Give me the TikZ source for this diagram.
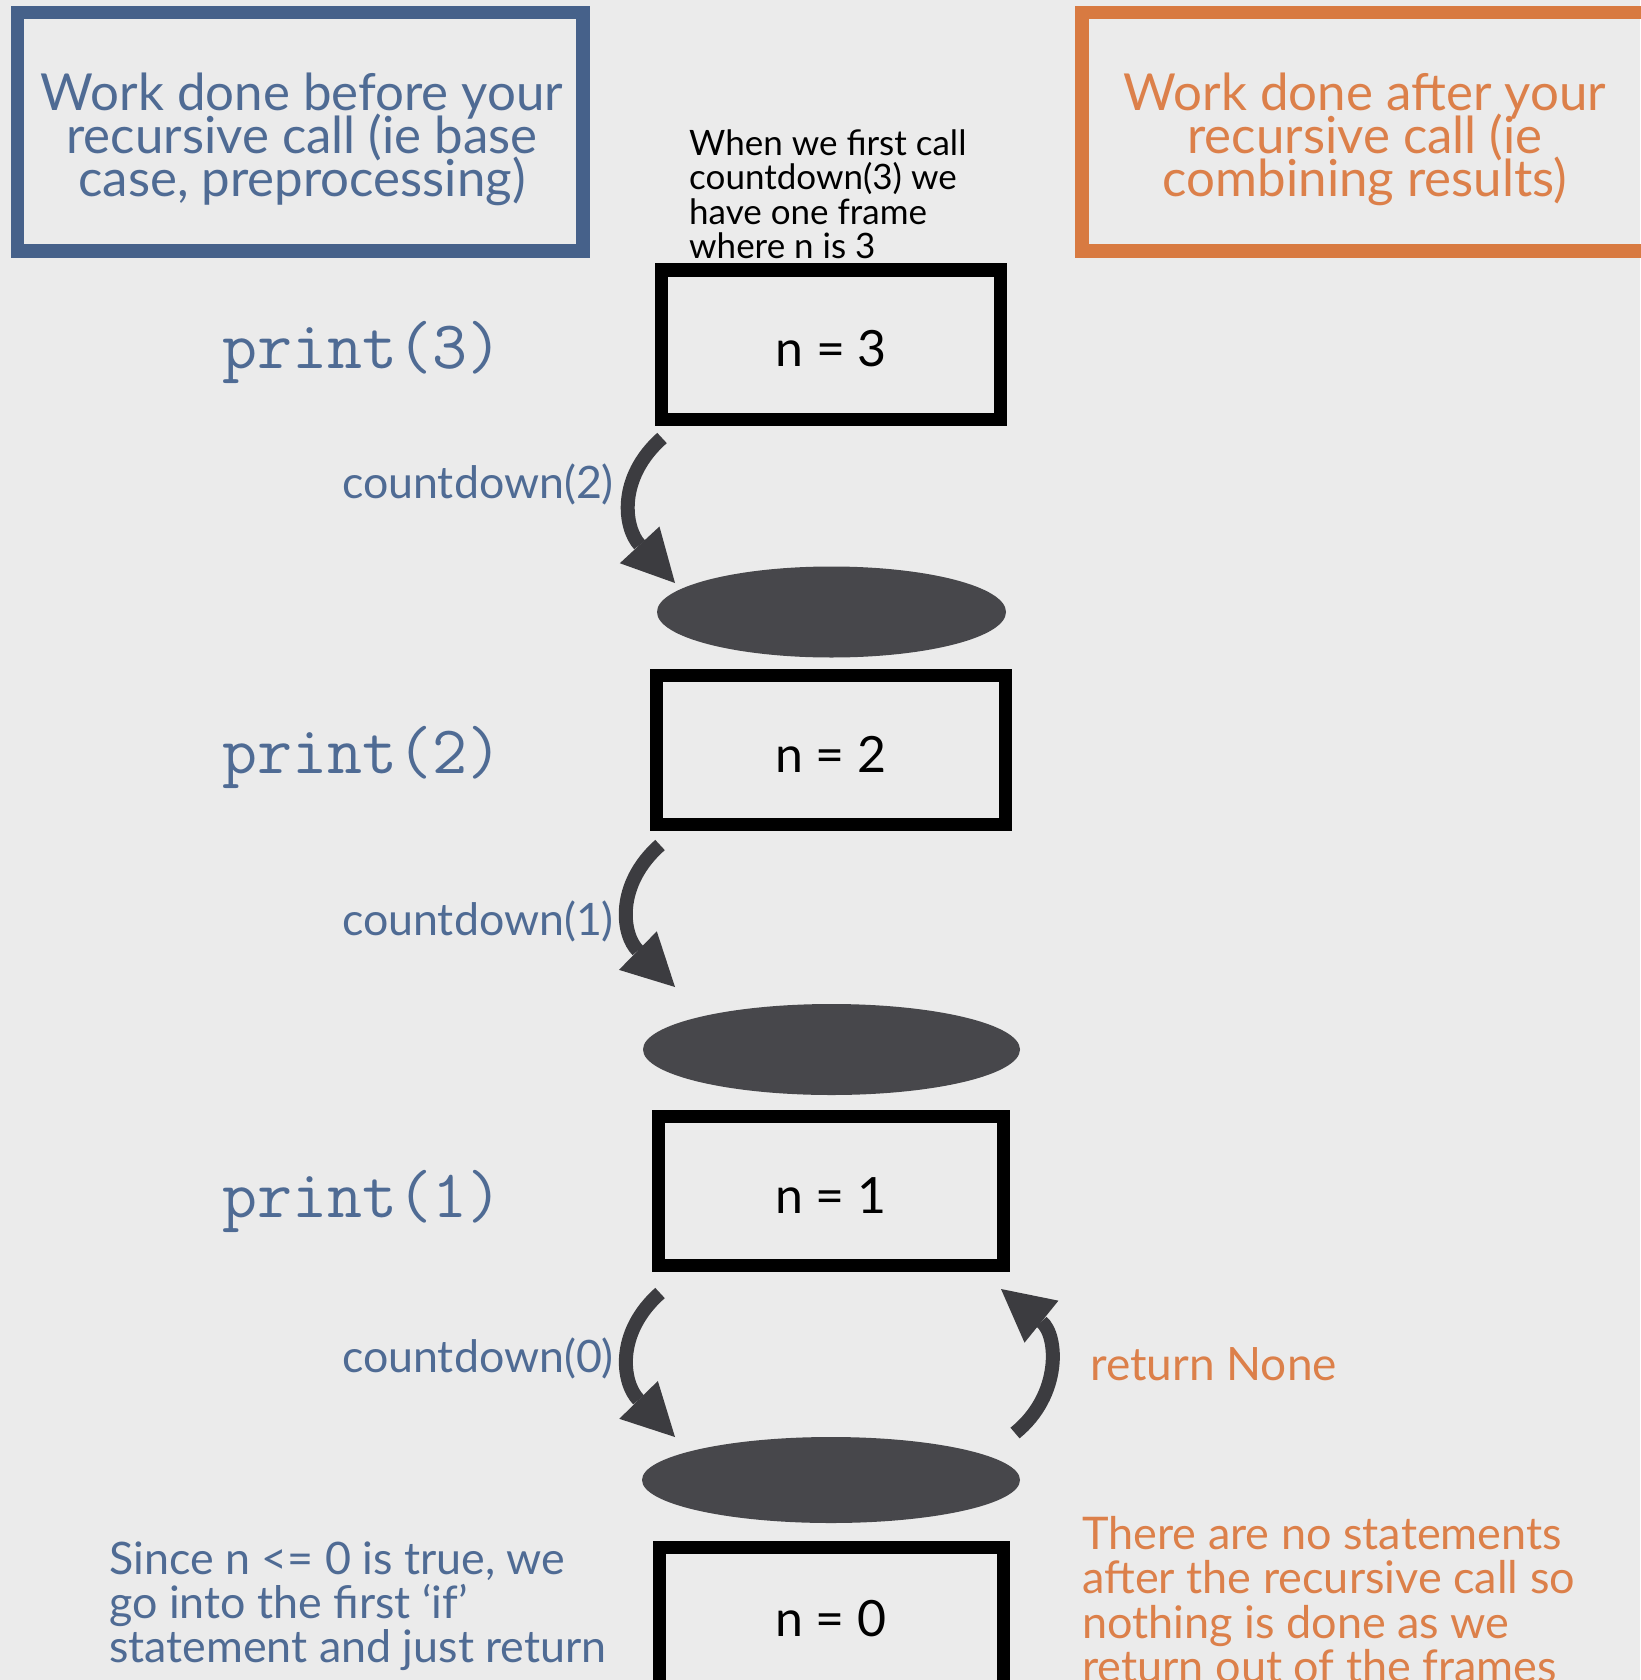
\documentclass[tikz,border=0pt]{standalone}
\usepackage{fontspec}
\setmainfont{Lato}
\usetikzlibrary{arrows.meta,shapes.geometric}

\definecolor{paper}{HTML}{EBEBEB}
\definecolor{slate}{HTML}{46618A}
\definecolor{slatetext}{HTML}{4F6B94}
\definecolor{rust}{HTML}{D87A41}
\definecolor{rusttext}{HTML}{DC804A}
\definecolor{ink}{HTML}{3C3C40}
\definecolor{disc}{HTML}{47474B}

\lineskiplimit=-1000pt

\tikzset{
  header/.style={line width=13.5pt, inner sep=0pt, minimum height=238.5pt},
  headertext/.style={inner sep=0pt, align=center, font=\fontsize{51}{43}\selectfont},
  frame/.style={draw=black, line width=13pt, minimum height=149pt, inner sep=0pt,
    text height=44pt, text depth=0pt, font=\fontsize{50}{52}\selectfont},
  disc/.style={ellipse, fill=disc, inner sep=0pt},
  printcall/.style={anchor=base west, inner sep=0pt, text=slatetext,
    font=\ttfamily\fontsize{68}{70}\selectfont},
  calllabel/.style={anchor=base east, inner sep=0pt, text=slatetext,
    font=\fontsize{44.7}{48}\selectfont},
  call/.style={draw=ink, line width=14pt,
    -{Triangle[length=52pt,width=54pt,line width=0pt]}},
  remark/.style={anchor=base west, inner sep=0pt, align=left},
}

\begin{document}
\begin{tikzpicture}[x=1pt,y=-1pt]
  % paper
  \path[use as bounding box, fill=paper] (0,0) rectangle (1640,1680);

  % column headers
  \node[header, draw=slate, minimum width=565.5pt] (before) at (300,132) {};
  \node[headertext, text=slatetext] (beforetext) at (302,139.5)
    {Work done before your\\recursive call (ie base\\case, preprocessing)};
  \node[header, draw=rust, minimum width=578pt] (after) at (1371,132) {};
  \node[headertext, text=rusttext] (aftertext) at (1365,139.5)
    {Work done after your\\recursive call (ie\\combining results)};

  % first-call note (anchored on its last line)
  \node[remark, font=\fontsize{35}{34.5}\selectfont] (note) at (689,258.5)
    {When we first call\\countdown(3) we\\have one frame\\where n is 3};

  % stack frames
  \node[frame, minimum width=339.5pt] (f3) at (831.2,344.5) {n = 3};
  \node[disc, minimum width=349pt, minimum height=91pt] (e1) at (831.5,612) {};
  \node[frame, minimum width=349pt] (f2) at (831,750) {n = 2};
  \node[disc, minimum width=377pt, minimum height=91pt] (e2) at (831.5,1049.5) {};
  \node[frame, minimum width=344.5pt] (f1) at (831,1191) {n = 1};
  \node[disc, minimum width=378pt, minimum height=86pt] (e3) at (831,1480) {};
  \node[frame, minimum width=344pt, text height=30pt] (f0) at (831,1621.5) {n = 0};

  % work before each call
  \node[printcall] (p3) at (222.5,368) {print(3)};
  \node[printcall] (p2) at (222.5,773) {print(2)};
  \node[printcall] (p1) at (222.5,1217) {print(1)};

  % recursive calls and the return
  \coordinate (d1a) at (662,438);  \coordinate (d1b) at (675,583);
  \coordinate (d2a) at (660,845);  \coordinate (d2b) at (675,987);
  \coordinate (d3a) at (660,1293); \coordinate (d3b) at (675,1437);
  \coordinate (r0a) at (1015,1433); \coordinate (r0b) at (1001,1289);

  \draw[call] (d1a) .. controls (617,478) and (624,528) .. (d1b);
  \draw[call] (d2a) .. controls (615,885) and (622,935) .. (d2b);
  \draw[call] (d3a) .. controls (615,1333) and (622,1383) .. (d3b);
  \draw[call] (r0a) .. controls (1062,1395) and (1058,1335) .. (r0b);

  \node[calllabel] (c2) at (614,498) {countdown(2)};
  \node[calllabel] (c1) at (614,935) {countdown(1)};
  \node[calllabel] (c0) at (614,1372) {countdown(0)};

  \node[anchor=base west, inner sep=0pt, text=rusttext,
        font=\fontsize{46}{48}\selectfont] (ret) at (1090,1380) {return None};

  % base case remarks (anchored on their last lines)
  \node[remark, text=slatetext, font=\fontsize{44.8}{44}\selectfont] (base) at (109,1662)
    {Since n <= 0 is true, we\\go into the first ‘if’\\statement and just return};
  \node[remark, text=rusttext, font=\fontsize{45}{44.5}\selectfont] (nothing) at (1082,1682.5)
    {There are no statements\\after the recursive call so\\nothing is done as we\\return out of the frames};
\end{tikzpicture}
\end{document}
